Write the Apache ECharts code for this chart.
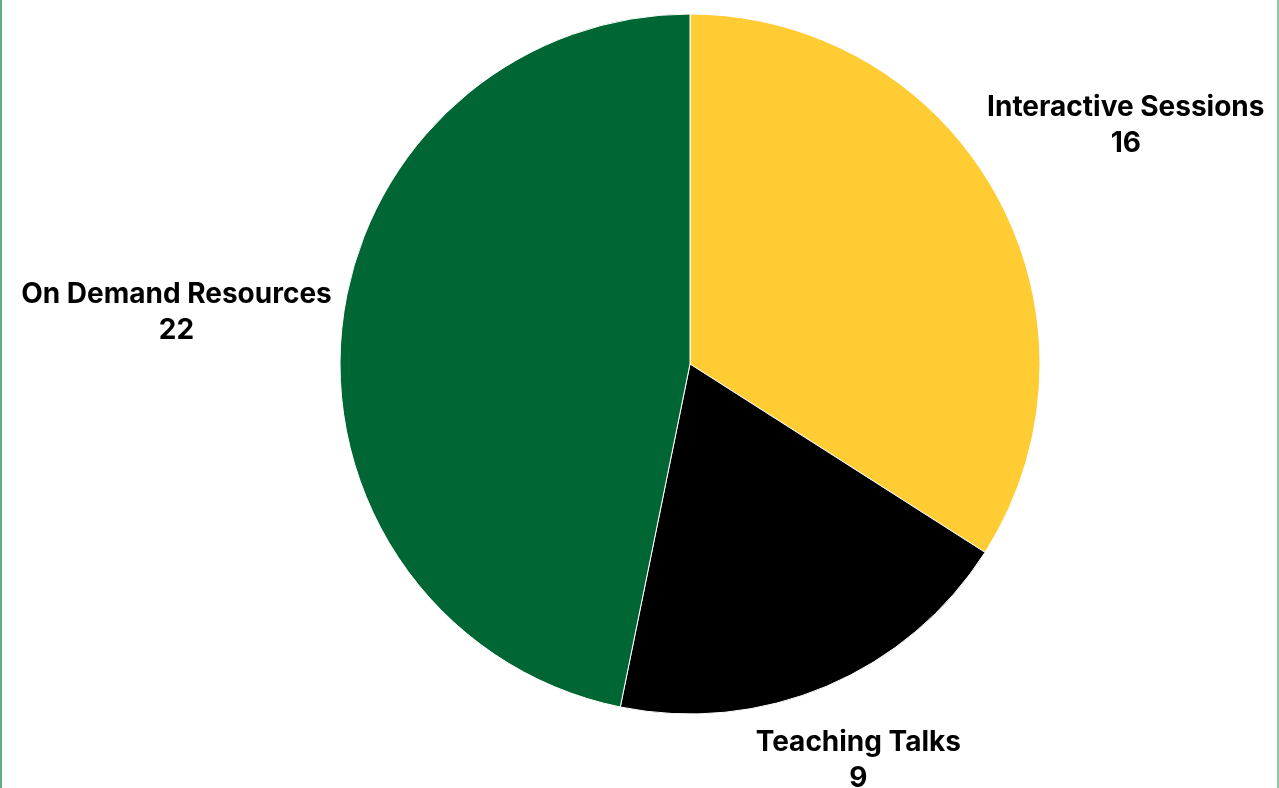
<!DOCTYPE html>
<html>
<head>
<meta charset="utf-8">
<title>Sessions</title>
<script src="https://cdn.jsdelivr.net/npm/echarts@6/dist/echarts.min.js"></script>
<style>
html, body { margin: 0; padding: 0; background: #fff; }
#chart { width: 1279px; height: 788px; }
.frame {
  position: absolute; left: 0; top: 0; width: 1279px; height: 788px;
  box-sizing: border-box; pointer-events: none;
  border-left: 2px solid #5fae88; border-right: 2px solid #8fcaa9;
}
</style>
</head>
<body>
<div id="chart"></div>
<div class="frame"></div>
<script>
// chart data
const categories = ['Interactive Sessions', 'Teaching Talks', 'On Demand Resources']
const values = [16, 9, 22]
const colors = ['#ffcc33', '#000000', '#006633']

const cx = 690
const cy = 364
const radius = 350
const total = values.reduce((a, b) => a + b, 0)

// mid angle of every slice, clockwise from 12 o'clock
const midAngles = []
let acc = 0
values.forEach(v => {
  midAngles.push((acc + v / 2) / total * Math.PI * 2)
  acc += v
})

const myChart = echarts.init(document.getElementById('chart'))
const option = {
  animation: false,
  series: [
    {
      name: 'Sessions',
      type: 'pie',
      center: [cx, cy],
      radius: radius,
      startAngle: 90,
      clockwise: true,
      data: categories.map((name, i) => ({
        name: name,
        value: values[i],
        itemStyle: { color: colors[i] }
      })),
      itemStyle: {
        borderColor: '#ffffff',
        borderWidth: 1
      },
      labelLine: { show: false },
      label: {
        show: true,
        position: 'outside',
        overflow: 'none',
        formatter: '{b}\n{c}',
        fontFamily: 'Inter',
        fontWeight: 'bold',
        fontSize: 28,
        lineHeight: 36,
        color: '#000',
        align: 'center'
      },
      // put each label just outside the circle, centred on its slice direction
      labelLayout: function (params) {
        const a = midAngles[params.dataIndex]
        const dx = Math.sin(a)
        const dy = -Math.cos(a)
        const hw = params.labelRect.width / 2
        const hh = params.labelRect.height / 2
        const d = radius + 8 + Math.abs(hw * dx) + Math.abs(hh * dy)
        return {
          x: cx + d * dx,
          y: cy + d * dy,
          align: 'center',
          verticalAlign: 'middle'
        }
      }
    }
  ]
}
myChart.setOption(option)
</script>
</body>
</html>
